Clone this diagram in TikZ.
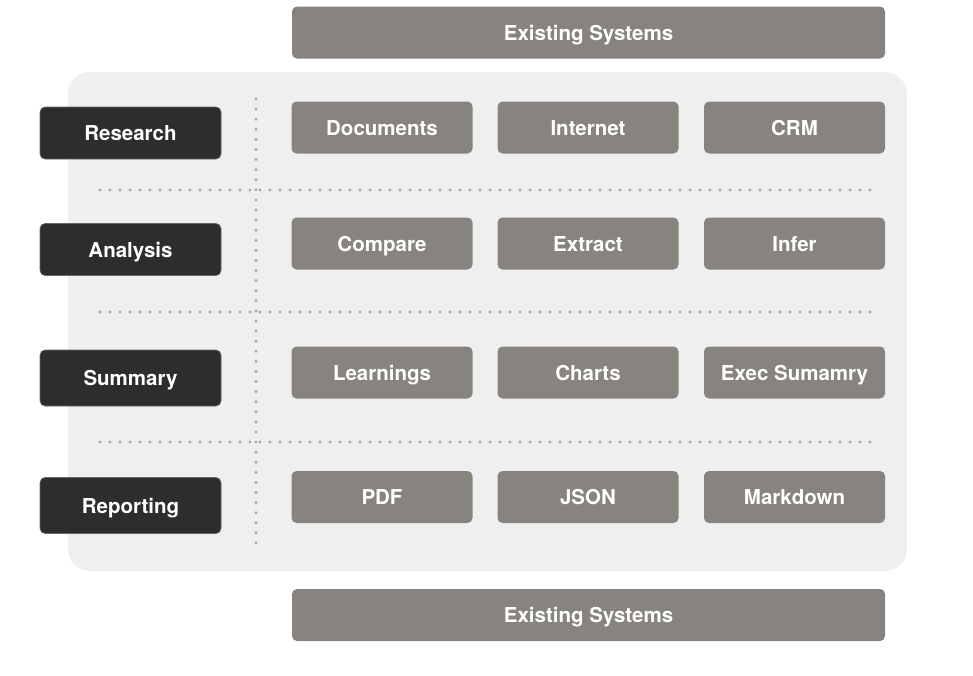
\documentclass[tikz,border=0pt]{standalone}
\usepackage{fontspec}
\setmainfont{TeX Gyre Heros}
\usetikzlibrary{positioning}
\definecolor{panelgray}{HTML}{EFEFEF}
\definecolor{stepdark}{HTML}{2D2D2D}
\definecolor{itemgray}{HTML}{87847F}
\definecolor{dotgray}{HTML}{A8A8A8}

\begin{document}
\begin{tikzpicture}[x=1pt, y=-1pt,
  item/.style={fill=itemgray, rounded corners=5pt, minimum width=181pt, minimum height=52pt, inner sep=0pt, text=white, text height=17pt, text depth=2pt, font=\fontsize{20.5}{24}\selectfont\bfseries},
  stage/.style={item, fill=stepdark, draw=black!60, line width=0.6pt},
  bar/.style={item, minimum width=593pt},
  divider/.style={dotgray, line width=3.3pt, line cap=round, dash pattern=on 0pt off 10pt}]
  \useasboundingbox (0,0) rectangle (973,675);

  % panel
  \fill[panelgray, rounded corners=22pt] (68,72) rectangle (907,571);

  % dotted grid
  \draw[divider, dash pattern=on 0pt off 10.09pt] (256,99) -- (256,543.1);
  \draw[divider] (100,190) -- (870.1,190);
  \draw[divider] (100,312) -- (870.1,312);
  \draw[divider] (100,442) -- (870.1,442);

  % systems
  \node[bar] (top) at (588.5,32.5) {Existing Systems};
  \node[bar] (bottom) at (588.5,615) {Existing Systems};

  % stages
  \node[stage] (research) at (130.5,133) {Research};
  \node[stage] (analysis) at (130.5,249.5) {Analysis};
  \node[stage, minimum height=56pt] (summary) at (130.5,378) {Summary};
  \node[stage, minimum height=56pt] (reporting) at (130.5,505.5) {Reporting};

  % research
  \node[item] (docs) at (382,127.5) {Documents};
  \node[item] (internet) at (588,127.5) {Internet};
  \node[item] (crm) at (794.5,127.5) {CRM};

  % analysis
  \node[item] (compare) at (382,243.5) {Compare};
  \node[item] (extract) at (588,243.5) {Extract};
  \node[item] (infer) at (794.5,243.5) {Infer};

  % summary
  \node[item] (learn) at (382,372.5) {Learnings};
  \node[item] (charts) at (588,372.5) {Charts};
  \node[item] (exec) at (794.5,372.5) {Exec Sumamry};

  % reporting
  \node[item] (pdf) at (382,497) {PDF};
  \node[item] (json) at (588,497) {JSON};
  \node[item] (md) at (794.5,497) {Markdown};
\end{tikzpicture}
\end{document}
